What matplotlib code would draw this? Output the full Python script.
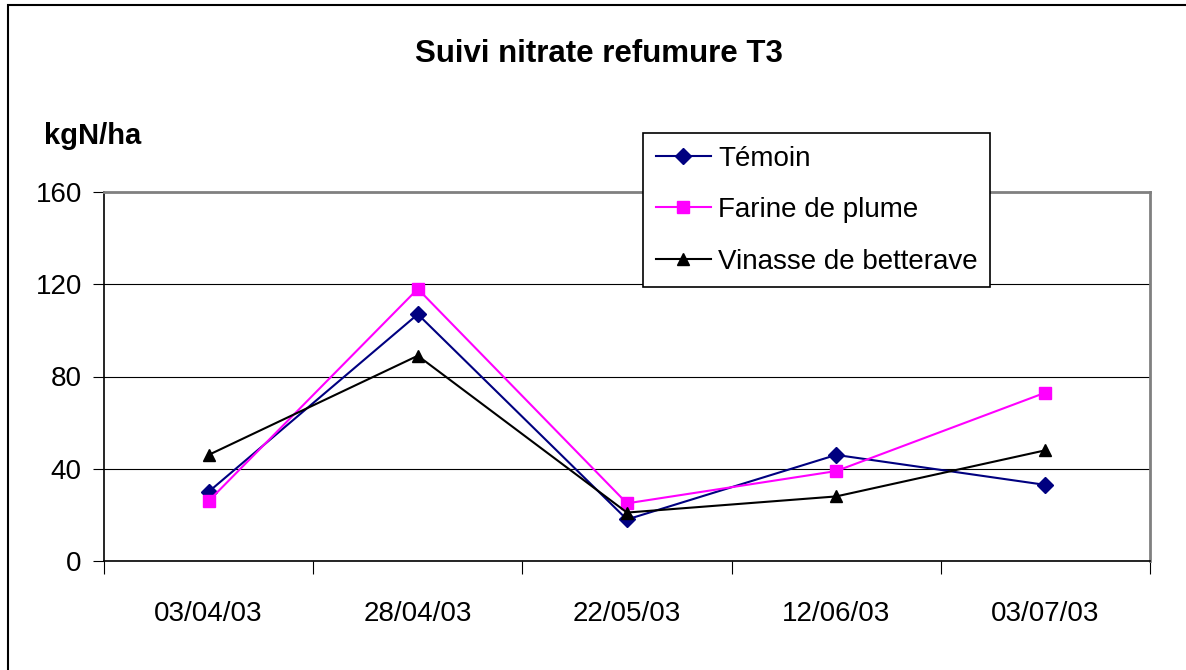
import matplotlib.pyplot as plt
from matplotlib.patches import Rectangle
import numpy as np

plt.rcParams['font.family'] = ['Liberation Sans', 'DejaVu Sans']

dates = ['03/04/03', '28/04/03', '22/05/03', '12/06/03', '03/07/03']
temoin = [30, 107, 18, 46, 33]
farine = [26, 118, 25, 39, 73]
vinasse = [46, 89, 21, 28, 48]

W, H = 1186, 670
fig = plt.figure(figsize=(W / 100, H / 100), dpi=100)

# outer chart frame (cut at right / bottom like the original)
fig.patches.append(Rectangle((8 / W, -0.05), 1.2, 1 - 5 / H + 0.05,
                             transform=fig.transFigure, fill=False,
                             edgecolor='black', lw=1.5))

ax = fig.add_axes([104 / W, 1 - 561 / H, (1150 - 104) / W, (561 - 192) / H])

x = np.arange(len(dates))
ax.plot(x, temoin, color='#000080', marker='D', ms=8, lw=1.5, label='Témoin', zorder=3)
ax.plot(x, farine, color='#ff00ff', marker='s', ms=8, lw=1.5, label='Farine de plume', zorder=3)
ax.plot(x, vinasse, color='black', marker='^', ms=9, lw=1.5, label='Vinasse de betterave', zorder=3)

ax.set_xlim(-0.5, len(dates) - 0.5)
ax.set_ylim(0, 160)
ax.set_yticks([0, 40, 80, 120, 160])
ax.set_yticklabels(['0', '40', '80', '120', '160'], fontsize=20)
ax.yaxis.grid(True, color='black', lw=0.8)
ax.set_axisbelow(True)

# category labels centred, tick marks between categories
ax.set_xticks(np.arange(-0.5, len(dates)), minor=False)
ax.set_xticklabels([])
ax.set_xticks(x, minor=True)
ax.set_xticklabels(dates, minor=True, fontsize=20)
ax.tick_params(axis='x', which='minor', length=0, pad=29)
ax.tick_params(axis='x', which='major', length=9, direction='out', color='black')
ax.tick_params(axis='y', length=8, direction='out', pad=8)

for s in ['left', 'bottom']:
    ax.spines[s].set_color('black')
    ax.spines[s].set_linewidth(1.2)
for s in ['top', 'right']:
    ax.spines[s].set_color('#808080')
    ax.spines[s].set_linewidth(2)

fig.text(599 / W, 1 - 54 / H, 'Suivi nitrate refumure T3', ha='center', va='center',
         fontsize=22.5, fontweight='bold')
fig.text(44 / W, 1 - 136 / H, 'kgN/ha', ha='left', va='center',
         fontsize=21, fontweight='bold')

leg = ax.legend(loc='upper left', bbox_to_anchor=((643 - 104) / 1046, 1 + (192 - 133) / 369),
                fontsize=20, frameon=True, fancybox=False, edgecolor='black',
                framealpha=1, handlelength=2.0, handletextpad=0.25, borderpad=0.45,
                labelspacing=0.92, borderaxespad=0)
leg.get_frame().set_linewidth(1.2)
leg.set_zorder(5)

fig.savefig('out.png', dpi=100)
